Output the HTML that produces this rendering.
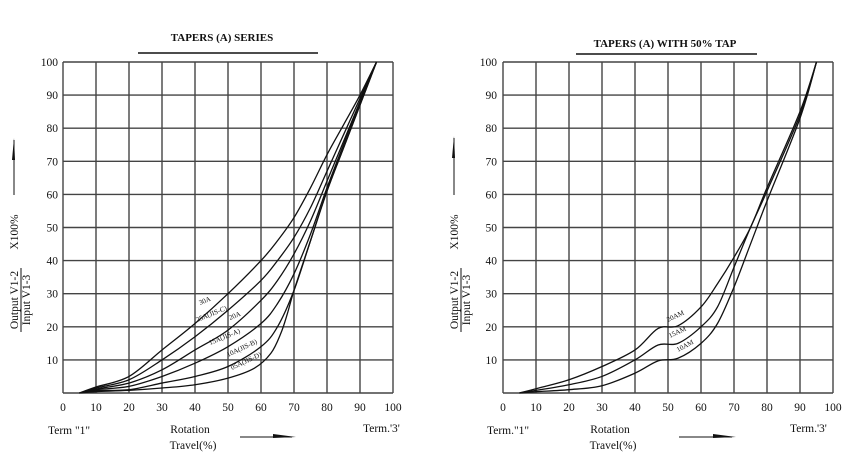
<!DOCTYPE html>
<html><head><meta charset="utf-8"><style>
html,body{margin:0;padding:0;background:#fff;}
svg text{font-family:"Liberation Serif",serif;font-size:11.5px;fill:#111;}
</style></head><body>
<svg id="s" width="851" height="467" viewBox="0 0 851 467" xmlns="http://www.w3.org/2000/svg">
<rect width="851" height="467" fill="#fff"/>
<g id="g"></g>
<text x="222" y="41" text-anchor="middle" font-weight="bold" style="font-size:11px">TAPERS (A) SERIES</text>
<line x1="138" y1="53" x2="318" y2="53" stroke="#111" stroke-width="1.4"/>
<text x="665" y="47" text-anchor="middle" font-weight="bold" style="font-size:11px">TAPERS (A) WITH  50% TAP</text>
<line x1="576" y1="54" x2="757" y2="54" stroke="#111" stroke-width="1.4"/>

<text x="48" y="434">Term "1"</text>
<text x="190" y="433" text-anchor="middle">Rotation</text>
<text x="193" y="449" text-anchor="middle">Travel(%)</text>
<line x1="240" y1="437" x2="292" y2="437" stroke="#111"/>
<polygon points="273,434 296,437 273,438" fill="#111"/>
<text x="363" y="432">Term.'3'</text>

<text x="487" y="434">Term."1"</text>
<text x="610" y="433" text-anchor="middle">Rotation</text>
<text x="613" y="449" text-anchor="middle">Travel(%)</text>
<line x1="679" y1="437" x2="732" y2="437" stroke="#111"/>
<polygon points="713,434 736,437 713,438" fill="#111"/>
<text x="790" y="432">Term.'3'</text>

<g transform="translate(18,300) rotate(-90)"><text x="0" y="0" text-anchor="middle">Output V1-2</text><line x1="-32" y1="3" x2="32" y2="3" stroke="#111"/><text x="0" y="12" text-anchor="middle">Input V1-3</text></g>
<text transform="translate(18,232) rotate(-90)" text-anchor="middle">X100%</text>
<line x1="14" y1="140" x2="14" y2="195" stroke="#111"/><polygon points="12,160 14,138 15,160" fill="#111"/>
<g transform="translate(458,300) rotate(-90)"><text x="0" y="0" text-anchor="middle">Output V1-2</text><line x1="-32" y1="3" x2="32" y2="3" stroke="#111"/><text x="0" y="12" text-anchor="middle">Input V1-3</text></g>
<text transform="translate(458,232) rotate(-90)" text-anchor="middle">X100%</text>
<line x1="454" y1="138" x2="454" y2="195" stroke="#111"/><polygon points="452,158 454,136 455,158" fill="#111"/>
</svg>
<script>
var g=document.getElementById('g'),NS='http://www.w3.org/2000/svg';
function el(t,a,txt){var e=document.createElementNS(NS,t);for(var k in a)e.setAttribute(k,a[k]);if(txt)e.textContent=txt;g.appendChild(e);return e;}
function chart(x0,yl){
 var y0=393,W=330,H=331;
 for(var i=0;i<=10;i++){var x=x0+i*33;el('line',{x1:x,y1:62,x2:x,y2:y0,stroke:'#444','stroke-width':1.4});
  var y=y0-i*33.1;el('line',{x1:x0,y1:y,x2:x0+W,y2:y,stroke:'#444','stroke-width':1.4});
  el('text',{x:x,y:411,'text-anchor':'middle'},String(i*10));
  if(i>0)el('text',{x:yl,y:y+4,'text-anchor':'end'},String(i*10));}
 return function(pts){var P=pts.map(function(p){return[x0+p[0]*3.3,y0-p[1]*3.31]});
  var d='M'+P[0][0]+','+P[0][1];
  for(var i=0;i<P.length-1;i++){var a=P[i-1]||P[i],b=P[i],c=P[i+1],e=P[i+2]||c;
   d+=' C'+(b[0]+(c[0]-a[0])/6)+','+(b[1]+(c[1]-a[1])/6)+' '+(c[0]-(e[0]-b[0])/6)+','+(c[1]-(e[1]-b[1])/6)+' '+c[0]+','+c[1];}
  el('path',{d:d,fill:'none',stroke:'#111','stroke-width':1.3});};
}
var L=chart(63,58);
var xs=[5,10,20,30,40,50,60,65,70,75,80,85,90,95];
[[0,1.8,5,13,21,30,40,46,53,62,72,81,90,100],
 [0,1.5,4,10,17,25,34,40,47,56,67,78,89,100],
 [0,1.2,3,7,13,19,28,34,42,52,64,76,88,100],
 [0,1,2,5,9,14,21,27,36,48,62,75,88,100],
 [0,.7,1,3,5,8,14,20,31,46,61,74,87,100]].forEach(function(r){L(xs.map(function(x,i){return[x,r[i]]}))});
L([[5,0],[10,.4],[20,.8],[30,1.5],[40,2.5],[50,4.5],[58,7.5],[63,12],[66,18],[68,24],[70,31],[75,46],[80,61],[85,74],[90,87],[95,100]]);
var R=chart(503,497);
R([[5,0],[10,1.3],[20,4],[30,8],[40,13],[47,19.5],[53,20.3],[60,26],[65,33],[70,41],[75,50],[80,62],[90,85],[95,100]]);
R([[5,0],[10,.8],[20,2.5],[30,5],[40,10],[47,14.5],[53,15],[60,20],[65,26],[70,38],[75,50],[80,61],[90,84],[95,100]]);
R([[5,0],[10,.4],[20,1],[30,2.2],[40,6],[47,9.7],[53,10.5],[60,15],[65,21],[70,32],[75,45],[80,58],[90,83],[95,100]]);
function lab(x,y,r,t){el('text',{x:x,y:y,transform:'rotate('+r+' '+x+' '+y+')',style:'font-size:7px'},t);}
lab(200,305,-22,'30A');lab(197,322,-22,'25A(JIS-C)');lab(230,320,-22,'20A');lab(210,345,-22,'15A(JIS-A)');lab(228,357,-25,'10A(JIS-B)');lab(232,370,-25,'05A(JIS-D)');
lab(668,322,-25,'20AM');lab(670,338,-25,'15AM');lab(678,352,-28,'10AM');
</script>
</body></html>
